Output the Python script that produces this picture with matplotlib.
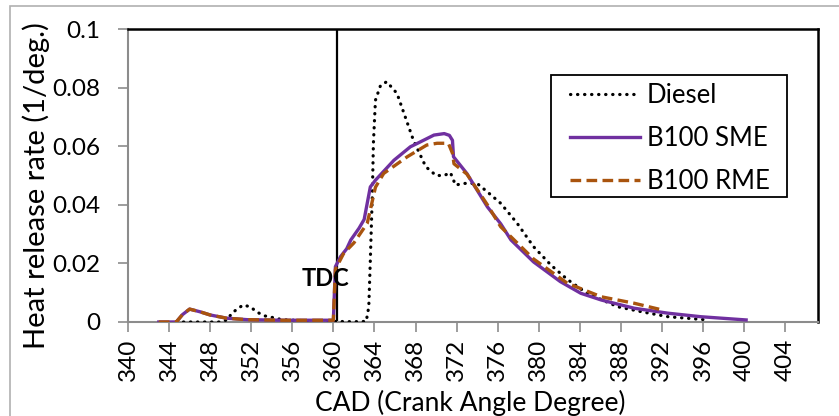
import numpy as np
import matplotlib.pyplot as plt
from matplotlib.patches import Rectangle
from matplotlib.ticker import FuncFormatter

plt.rcParams['font.family'] = ['Lato', 'DejaVu Sans']

# crank angle (deg) and heat release rate (1/deg)
diesel_cad = [345.4, 347, 349, 349.7, 350.1, 350.6, 351.2, 351.9, 352.6, 353.3, 354, 355, 358, 360,
              362, 363.2, 363.45, 363.6, 363.8, 363.9, 364.1, 364.6, 365.2, 366.2, 367.0, 367.8,
              369.0, 370.0, 370.8, 371.4, 371.9, 372.6, 374.0, 375.0, 376.3, 377.9, 379.5, 381.2,
              382.8, 384.7, 387.7, 390.0, 392.6, 396.5]
diesel_hrr = [0, 0, 0, 0.0008, 0.003, 0.0043, 0.0058, 0.0052, 0.0033, 0.0021, 0.0016, 0.0008, 0.0003, 0.0002,
              0.0001, 0.0002, 0.0052, 0.0211, 0.0439, 0.061, 0.0757, 0.0808, 0.082, 0.078, 0.070, 0.062,
              0.053, 0.050, 0.050, 0.051, 0.0467, 0.0473, 0.0473, 0.0444, 0.0405, 0.0337, 0.0257, 0.0194,
              0.0145, 0.0098, 0.0052, 0.0035, 0.0018, 0.0007]

sme_cad = [343, 344.7, 345.3, 346, 347, 348, 349.6, 351.6, 355, 360, 360.2, 360.7, 361.3, 361.7, 362.5,
           363.0, 363.6, 364.1, 365.9, 367.5, 368.2, 369.8, 370.8, 371.3, 371.6, 371.7, 373.0, 375,
           376.3, 377.3, 379.5, 382.1, 384.1, 386.1, 389.3, 392.6, 395.8, 400.2]
sme_hrr = [0, 0, 0.0025, 0.0044, 0.0035, 0.0024, 0.0013, 0.0008, 0.0006, 0.0006, 0.0189, 0.0223, 0.025,
           0.028, 0.032, 0.035, 0.0461, 0.0484, 0.0552, 0.0598, 0.061, 0.0638, 0.0643, 0.0637, 0.062,
           0.0564, 0.0507, 0.0393, 0.0335, 0.028, 0.0205, 0.0138, 0.0098, 0.0075, 0.0047, 0.003,
           0.0018, 0.0007]

rme_cad = [343, 344.7, 345.3, 346, 347, 348, 349.6, 351.6, 355, 360, 360.2, 361, 362, 363.3, 364.1,
           364.9, 367.2, 369.1, 370.1, 371.2, 371.6, 371.75, 373.0, 375, 376.3, 379.5, 382.8, 386.1,
           389.3, 391.8]
rme_hrr = [0, 0, 0.0025, 0.0044, 0.0035, 0.0024, 0.0013, 0.0008, 0.0006, 0.0006, 0.018, 0.0234, 0.027,
           0.0337, 0.046, 0.0507, 0.0564, 0.0604, 0.061, 0.061, 0.0576, 0.054, 0.0505, 0.040, 0.0325,
           0.0215, 0.0132, 0.0086, 0.0064, 0.0043]

tdc_cad = 360.4
x_ticks = list(range(340, 405, 4))
y_ticks = [0, 0.02, 0.04, 0.06, 0.08, 0.1]

W, H = 839, 416
fig = plt.figure(figsize=(8.39, 4.16), dpi=100)
ax = fig.add_axes([128 / W, 1 - 322 / H, 690 / W, 293 / H])

# chart area border (only left/top visible in the crop)
fig.patches.append(Rectangle((10 / W, -0.1), 1.2, 1 - 6 / H + 0.1, transform=fig.transFigure,
                             fill=False, edgecolor='#b0b0b0', linewidth=1.2))

ax.plot(diesel_cad, diesel_hrr, color='black', linewidth=2.3, linestyle=(0, (0.1, 2.1)),
        dash_capstyle='round', label='Diesel', zorder=3)
ax.plot(sme_cad, sme_hrr, color='#7030A0', linewidth=2.4, label='B100 SME', zorder=4)
ax.plot(rme_cad, rme_hrr, color='#A9540E', linewidth=2.4, linestyle=(0, (3.2, 1.6)),
        label='B100 RME', zorder=5)

ax.plot([tdc_cad, tdc_cad], [0, 0.1], color='black', linewidth=1.6, zorder=2)
ax.text(361.6, 0.015, 'TDC', fontsize=17, fontweight='bold', ha='right', va='center', zorder=6)

ax.set_xlim(340, 407.2)
ax.set_ylim(0, 0.1)
ax.set_xticks(x_ticks)
ax.set_yticks(y_ticks)
ax.yaxis.set_major_formatter(FuncFormatter(lambda v, p: '0' if v == 0 else f'{v:g}'))
ax.tick_params(axis='x', labelrotation=90, direction='out', length=7, width=1.2, color='#8c8c8c',
               labelsize=17.5, pad=5)
ax.tick_params(axis='y', direction='out', length=7, width=1.2, color='#8c8c8c', labelsize=17.5, pad=13)

for s in ['left', 'bottom']:
    ax.spines[s].set_color('#8c8c8c')
    ax.spines[s].set_linewidth(1.5)
for s in ['top', 'right']:
    ax.spines[s].set_color('black')
    ax.spines[s].set_linewidth(1.8)

fig.text(36 / W, 1 - 186 / H, 'Heat release rate (1/deg.)', rotation=90, ha='center', va='center',
         fontsize=21)
fig.text(470 / W, 1 - 411 / H, 'CAD (Crank Angle Degree)', ha='center', va='baseline', fontsize=19)

# legend box drawn separately so the padding matches
fig.patches.append(Rectangle((551 / W, 1 - 197 / H), 236 / W, 122 / H, transform=fig.transFigure,
                             facecolor='white', edgecolor='black', linewidth=1.3, zorder=7))
leg = fig.legend(loc='upper left', bbox_to_anchor=(570 / W, 1 - 83 / H), fontsize=18.5,
                 frameon=False, handlelength=2.72, handletextpad=0.27,
                 labelspacing=0.7, borderpad=0, borderaxespad=0)
leg.set_zorder(8)

fig.savefig('out.png', dpi=100)
